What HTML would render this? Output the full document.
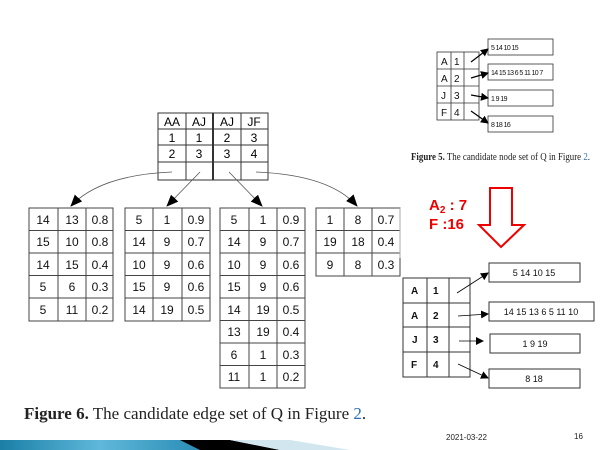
<!DOCTYPE html>
<html><head><style>
body{margin:0;width:600px;height:450px;background:#fff;overflow:hidden;position:relative;font-family:"Liberation Sans",sans-serif}
</style></head><body>
<svg width="600" height="450" style="position:absolute;left:0;top:0">
<defs>
<marker id="ab" markerWidth="8" markerHeight="8" refX="7" refY="4" orient="auto" markerUnits="userSpaceOnUse"><path d="M0,0 L8,4 L0,8z" fill="#000"/></marker>
<marker id="as" markerWidth="12" markerHeight="12" refX="11" refY="6" orient="auto" markerUnits="userSpaceOnUse"><path d="M0,1 L12,6 L0,11z" fill="#000"/></marker>
<linearGradient id="bar" x1="0" x2="1"><stop offset="0" stop-color="#1a7fa6"/><stop offset="0.5" stop-color="#5fb8da"/><stop offset="1" stop-color="#2b8cb5"/></linearGradient>
</defs>
<g stroke="#333" stroke-width="1" fill="none">
<rect x="158" y="113" width="110" height="67"/>
<line x1="186" y1="113" x2="186" y2="180"/><line x1="213" y1="113" x2="213" y2="180" stroke-width="2"/><line x1="241" y1="113" x2="241" y2="180"/>
<line x1="158" y1="129" x2="268" y2="129"/><line x1="158" y1="145" x2="268" y2="145"/><line x1="158" y1="162" x2="268" y2="162"/>
</g>
<g font-size="12" text-anchor="middle" fill="#000">
<text x="172" y="126">AA</text><text x="199" y="126">AJ</text><text x="227" y="126">AJ</text><text x="254" y="126">JF</text>
<text x="172" y="142">1</text><text x="199" y="142">1</text><text x="227" y="142">2</text><text x="254" y="142">3</text>
<text x="172" y="158">2</text><text x="199" y="158">3</text><text x="227" y="158">3</text><text x="254" y="158">4</text>
</g>
<g stroke="#555" fill="none" stroke-width="0.8">
<path d="M172,172 Q100,175 71,206" marker-end="url(#as)"/>
<path d="M200,172 L167,206" marker-end="url(#as)"/>
<path d="M229,172 L262,206" marker-end="url(#as)"/>
<path d="M256,172 Q330,175 357,206" marker-end="url(#as)"/>
</g>
<g stroke="#444" fill="none">
<rect x="29" y="208" width="84" height="113"/><line x1="58" y1="208" x2="58" y2="321"/><line x1="86" y1="208" x2="86" y2="321"/>
<line x1="29" y1="230.5" x2="113" y2="230.5"/><line x1="29" y1="253" x2="113" y2="253"/><line x1="29" y1="275.5" x2="113" y2="275.5"/><line x1="29" y1="298" x2="113" y2="298"/>
<rect x="125" y="208" width="85" height="113"/><line x1="153" y1="208" x2="153" y2="321"/><line x1="182" y1="208" x2="182" y2="321"/>
<line x1="125" y1="230.5" x2="210" y2="230.5"/><line x1="125" y1="253" x2="210" y2="253"/><line x1="125" y1="275.5" x2="210" y2="275.5"/><line x1="125" y1="298" x2="210" y2="298"/>
<rect x="220" y="208" width="85" height="180"/><line x1="249" y1="208" x2="249" y2="388"/><line x1="277" y1="208" x2="277" y2="388"/>
<line x1="220" y1="230.5" x2="305" y2="230.5"/><line x1="220" y1="253" x2="305" y2="253"/><line x1="220" y1="275.5" x2="305" y2="275.5"/><line x1="220" y1="298" x2="305" y2="298"/><line x1="220" y1="320.5" x2="305" y2="320.5"/><line x1="220" y1="343" x2="305" y2="343"/><line x1="220" y1="365.5" x2="305" y2="365.5"/>
<rect x="316" y="208" width="84" height="68"/><line x1="344" y1="208" x2="344" y2="276"/><line x1="372" y1="208" x2="372" y2="276"/>
<line x1="316" y1="230.5" x2="400" y2="230.5"/><line x1="316" y1="253" x2="400" y2="253"/>
</g>
<g font-size="12" text-anchor="middle" fill="#111">
<text x="43" y="224">14</text><text x="72" y="224">13</text><text x="100" y="224">0.8</text>
<text x="43" y="246">15</text><text x="72" y="246">10</text><text x="100" y="246">0.8</text>
<text x="43" y="269">14</text><text x="72" y="269">15</text><text x="100" y="269">0.4</text>
<text x="43" y="291">5</text><text x="72" y="291">6</text><text x="100" y="291">0.3</text>
<text x="43" y="314">5</text><text x="72" y="314">11</text><text x="100" y="314">0.2</text>
<text x="139" y="224">5</text><text x="167" y="224">1</text><text x="196" y="224">0.9</text>
<text x="139" y="246">14</text><text x="167" y="246">9</text><text x="196" y="246">0.7</text>
<text x="139" y="269">10</text><text x="167" y="269">9</text><text x="196" y="269">0.6</text>
<text x="139" y="291">15</text><text x="167" y="291">9</text><text x="196" y="291">0.6</text>
<text x="139" y="314">14</text><text x="167" y="314">19</text><text x="196" y="314">0.5</text>
<text x="234" y="224">5</text><text x="263" y="224">1</text><text x="291" y="224">0.9</text>
<text x="234" y="246">14</text><text x="263" y="246">9</text><text x="291" y="246">0.7</text>
<text x="234" y="269">10</text><text x="263" y="269">9</text><text x="291" y="269">0.6</text>
<text x="234" y="291">15</text><text x="263" y="291">9</text><text x="291" y="291">0.6</text>
<text x="234" y="314">14</text><text x="263" y="314">19</text><text x="291" y="314">0.5</text>
<text x="234" y="336">13</text><text x="263" y="336">19</text><text x="291" y="336">0.4</text>
<text x="234" y="359">6</text><text x="263" y="359">1</text><text x="291" y="359">0.3</text>
<text x="234" y="381">11</text><text x="263" y="381">1</text><text x="291" y="381">0.2</text>
<text x="330" y="224">1</text><text x="358" y="224">8</text><text x="386" y="224">0.7</text>
<text x="330" y="246">19</text><text x="358" y="246">18</text><text x="386" y="246">0.4</text>
<text x="330" y="269">9</text><text x="358" y="269">8</text><text x="386" y="269">0.3</text>
</g>
<g stroke="#333" fill="none" stroke-width="0.8">
<rect x="437" y="52" width="42" height="68"/><line x1="451" y1="52" x2="451" y2="120"/><line x1="464" y1="52" x2="464" y2="120"/>
<line x1="437" y1="69" x2="479" y2="69"/><line x1="437" y1="86" x2="479" y2="86"/><line x1="437" y1="103" x2="479" y2="103"/>
<rect x="488" y="39" width="65" height="16"/><rect x="488" y="64" width="65" height="16"/><rect x="488" y="90" width="65" height="16"/><rect x="488" y="116" width="65" height="16"/>
</g>
<g stroke="#000" stroke-width="1.2">
<line x1="471" y1="62" x2="488" y2="49" marker-end="url(#ab)"/><line x1="471" y1="78" x2="488" y2="73" marker-end="url(#ab)"/>
<line x1="471" y1="95" x2="488" y2="98" marker-end="url(#ab)"/><line x1="471" y1="111" x2="488" y2="123" marker-end="url(#ab)"/>
</g>
<g font-size="10" fill="#111">
<text x="441" y="65">A</text><text x="454" y="65">1</text><text x="441" y="82">A</text><text x="454" y="82">2</text>
<text x="441" y="99">J</text><text x="454" y="99">3</text><text x="441" y="116">F</text><text x="454" y="116">4</text>
</g>
<g font-size="7" fill="#111" letter-spacing="-0.6">
<text x="491" y="50">5 14 10 15</text><text x="491" y="75">14 15 13 6 5 11 10 7</text><text x="491" y="101">1 9 19</text><text x="491" y="127">8 18 16</text>
</g>
<text x="411" y="160" font-family="Liberation Serif,serif" font-size="10" textLength="179" lengthAdjust="spacingAndGlyphs" fill="#222"><tspan font-weight="bold">Figure 5.</tspan> The candidate node set of Q in Figure <tspan fill="#2a6fb5">2</tspan>.</text>
<path d="M490,188 L512,188 L512,225 L524,225 L501,247 L479,225 L490,225 Z" fill="#fff" stroke="#e00" stroke-width="2"/>
<text x="429" y="210" font-size="15" font-weight="bold" fill="#e00">A<tspan font-size="10" dy="3">2</tspan><tspan dy="-3"> : 7</tspan></text>
<text x="429" y="229" font-size="15" font-weight="bold" fill="#e00">F :16</text>
<line x1="400" y1="207" x2="400" y2="258" stroke="#aaa"/>
<g stroke="#333" fill="none">
<rect x="403" y="278" width="67" height="99"/><line x1="427" y1="278" x2="427" y2="377"/><line x1="449" y1="278" x2="449" y2="377"/>
<line x1="403" y1="303" x2="470" y2="303"/><line x1="403" y1="327" x2="470" y2="327"/><line x1="403" y1="352" x2="470" y2="352"/>
<rect x="489" y="263" width="91" height="19"/><rect x="489" y="302" width="105" height="19"/><rect x="490" y="334" width="90" height="19"/><rect x="489" y="369" width="91" height="19"/>
</g>
<g stroke="#000" stroke-width="0.8">
<line x1="457" y1="293" x2="488" y2="273" marker-end="url(#ab)"/><line x1="458" y1="316" x2="488" y2="314" marker-end="url(#ab)"/>
<line x1="459" y1="341" x2="483" y2="341" marker-end="url(#ab)"/><line x1="458" y1="364" x2="488" y2="378" marker-end="url(#ab)"/>
</g>
<g font-size="10" font-weight="bold" fill="#111">
<text x="411" y="294">A</text><text x="433" y="294">1</text><text x="411" y="319">A</text><text x="433" y="319">2</text>
<text x="412" y="343">J</text><text x="433" y="343">3</text><text x="411" y="368">F</text><text x="433" y="368">4</text>
</g>
<g font-size="9" fill="#111" text-anchor="middle">
<text x="534" y="276">5 14 10 15</text><text x="541" y="315">14 15 13 6 5 11 10</text><text x="535" y="347">1 9 19</text><text x="534" y="382">8 18</text>
</g>
<text x="24" y="419" font-family="Liberation Serif,serif" font-size="17" fill="#222"><tspan font-weight="bold">Figure 6.</tspan> The candidate edge set of Q in Figure <tspan fill="#2a6fb5">2</tspan>.</text>
<text x="446" y="440" font-size="8" fill="#222">2021-03-22</text>
<text x="574" y="439" font-size="8" fill="#222">16</text>
<rect x="0" y="440" width="200" height="10" fill="url(#bar)"/>
<polygon points="180,440 230,440 280,450 200,450" fill="#000"/>
<polygon points="230,440 290,440 350,450 280,450" fill="#d2e6ef"/>
</svg>
</body></html>
